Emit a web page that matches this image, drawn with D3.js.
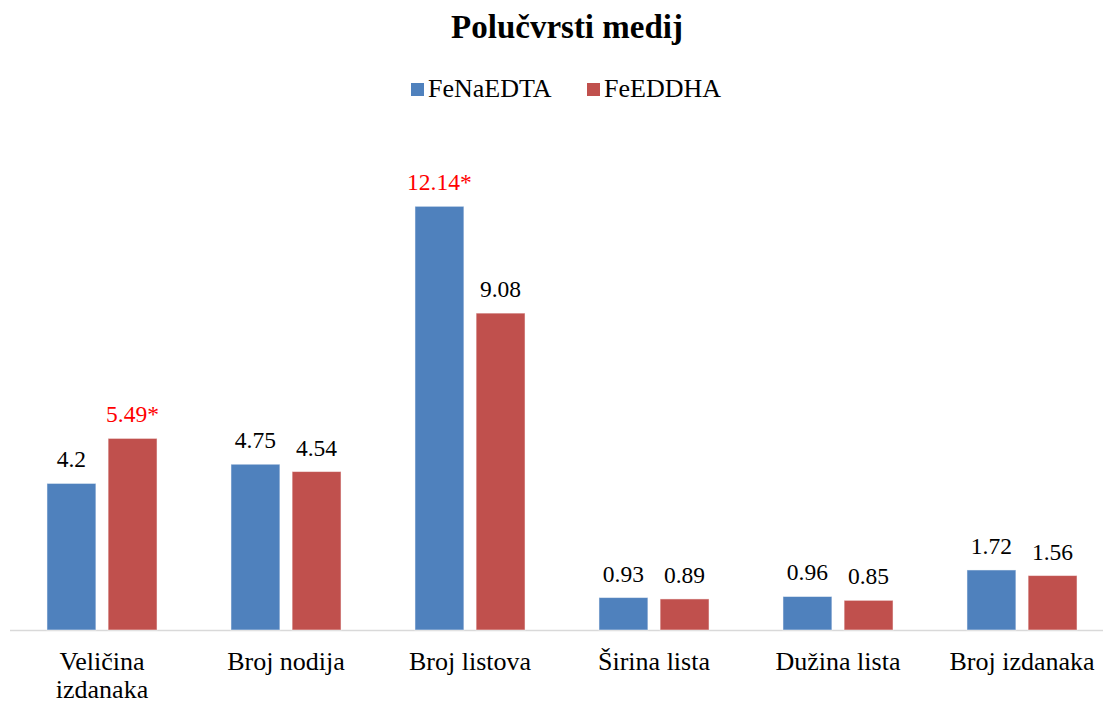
<!doctype html>
<html lang="hr">
<head>
    <meta charset="utf-8">
    <title>Polučvrsti medij</title>
    <script src="https://cdn.jsdelivr.net/npm/d3@7"></script>
    <style>
        body { margin: 0; background: #ffffff; }
        svg { display: block; }
    </style>
</head>
<body>
    <svg width="1103" height="704"></svg>
    <script>
        // data
        var categories = ["Veličina izdanaka", "Broj nodija", "Broj listova", "Širina lista", "Dužina lista", "Broj izdanaka"];
        var categoryLines = [["Veličina", "izdanaka"], ["Broj nodija"], ["Broj listova"], ["Širina lista"], ["Dužina lista"], ["Broj izdanaka"]];
        var seriesNames = ["FeNaEDTA", "FeEDDHA"];
        var feNaEDTA = [4.2, 4.75, 12.14, 0.93, 0.96, 1.72];
        var feEDDHA = [5.49, 4.54, 9.08, 0.89, 0.85, 1.56];
        // marked as significant (*)
        var starNaEDTA = [false, false, true, false, false, false];
        var starEDDHA = [true, false, false, false, false, false];

        var colors = ["#4F81BD", "#C0504D"];
        var serif = "'Liberation Serif', 'Times New Roman', serif";

        var svg = d3.select("svg");
        var baseY = 630;

        var x0 = d3.scaleBand()
            .domain(categories)
            .range([10, 10 + 184 * 6])
            .paddingInner(0.402)
            .paddingOuter(0.201);

        var x1 = d3.scaleBand()
            .domain(seriesNames)
            .range([0, x0.bandwidth()])
            .paddingInner(0.2)
            .paddingOuter(0);

        var y = d3.scaleLinear()
            .domain([0, 14])
            .range([baseY, baseY - 14 * 34.9]);

        var rows = categories.map(function (c, i) {
            return {
                cat: c,
                vals: [
                    { s: seriesNames[0], v: feNaEDTA[i], star: starNaEDTA[i], color: colors[0] },
                    { s: seriesNames[1], v: feEDDHA[i], star: starEDDHA[i], color: colors[1] }
                ]
            };
        });

        // title
        svg.append("text")
            .attr("x", 567)
            .attr("y", 38)
            .attr("text-anchor", "middle")
            .style("font-family", serif)
            .style("font-size", "33px")
            .style("font-weight", "bold")
            .attr("fill", "#000")
            .text("Polučvrsti medij");

        // legend
        var legend = svg.append("g")
            .selectAll("g")
            .data(seriesNames)
            .enter()
            .append("g")
            .attr("transform", function (d, i) { return "translate(" + (411 + i * 176) + ",0)"; });

        legend.append("rect")
            .attr("x", 0)
            .attr("y", 83)
            .attr("width", 13)
            .attr("height", 13)
            .attr("fill", function (d, i) { return colors[i]; });

        legend.append("text")
            .attr("x", 17)
            .attr("y", 97)
            .style("font-family", serif)
            .style("font-size", "26px")
            .attr("fill", "#000")
            .text(function (d) { return d; });

        // axis line
        svg.append("line")
            .attr("x1", 10)
            .attr("x2", 1103)
            .attr("y1", baseY + 0.5)
            .attr("y2", baseY + 0.5)
            .attr("stroke", "#d9d9d9")
            .attr("stroke-width", 1.5);

        // bars
        var groups = svg.append("g")
            .selectAll("g")
            .data(rows)
            .enter()
            .append("g")
            .attr("transform", function (d) { return "translate(" + x0(d.cat) + ",0)"; });

        groups.selectAll("rect")
            .data(function (d) { return d.vals; })
            .enter()
            .append("rect")
            .attr("x", function (d) { return x1(d.s); })
            .attr("y", function (d) { return y(d.v); })
            .attr("width", x1.bandwidth())
            .attr("height", function (d) { return baseY - y(d.v); })
            .attr("fill", function (d) { return d.color; })
            .attr("stroke", "#ffffff")
            .attr("stroke-opacity", 0.5)
            .attr("stroke-width", 1);

        // value labels
        groups.selectAll("text")
            .data(function (d) { return d.vals; })
            .enter()
            .append("text")
            .attr("x", function (d) { return x1(d.s) + x1.bandwidth() / 2; })
            .attr("y", function (d) { return y(d.v) - 16; })
            .attr("text-anchor", "middle")
            .style("font-family", serif)
            .style("font-size", "23.5px")
            .attr("fill", function (d) { return d.star ? "#ff0000" : "#000"; })
            .text(function (d) { return d.v + (d.star ? "*" : ""); });

        // category labels
        var catLabels = svg.append("g")
            .selectAll("text")
            .data(categories)
            .enter()
            .append("text")
            .attr("x", function (d) { return x0(d) + x0.bandwidth() / 2; })
            .attr("y", 670)
            .attr("text-anchor", "middle")
            .style("font-family", serif)
            .style("font-size", "26px")
            .attr("fill", "#000");

        catLabels.selectAll("tspan")
            .data(function (d, i) { return categoryLines[i]; })
            .enter()
            .append("tspan")
            .attr("x", function () { return this.parentNode.getAttribute("x"); })
            .attr("dy", function (d, i) { return i === 0 ? 0 : 28; })
            .text(function (d) { return d; });
    </script>
</body>
</html>
